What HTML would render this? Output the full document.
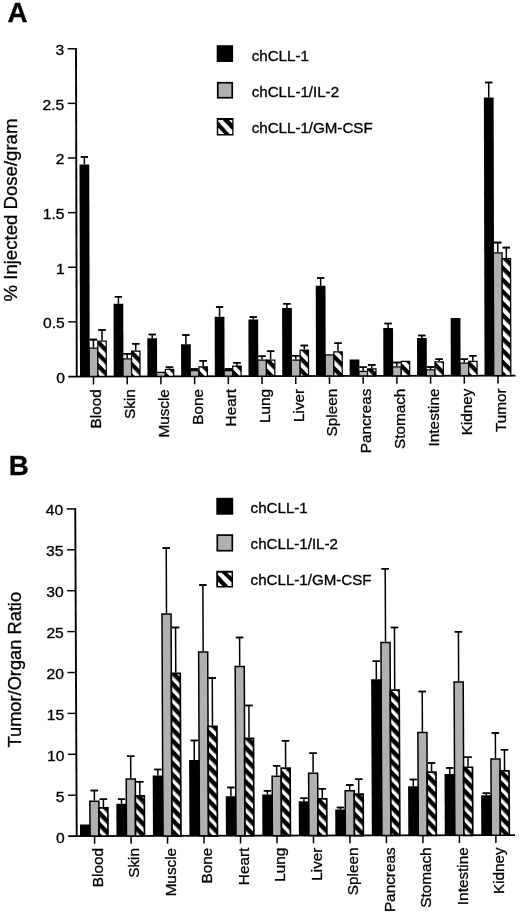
<!DOCTYPE html>
<html><head><meta charset="utf-8"><title>Figure</title>
<style>html,body{margin:0;padding:0;background:#fff}svg{display:block;filter:grayscale(1)}text{font-family:"Liberation Sans",sans-serif;fill:#000;stroke:#000;stroke-width:0.3px}</style>
</head><body>
<svg width="520" height="914" viewBox="0 0 520 914">
<defs>
<pattern id="hA" patternUnits="userSpaceOnUse" width="20" height="8.294" patternTransform="rotate(45.342) translate(0 2.666)"><rect width="20" height="8.294" fill="#fff"/><rect width="20" height="4.25" fill="#000"/></pattern>
<pattern id="hB" patternUnits="userSpaceOnUse" width="20" height="7.93" patternTransform="rotate(45.9) translate(0 0.45)"><rect width="20" height="7.93" fill="#fff"/><rect width="20" height="4.52" fill="#000"/></pattern>
</defs>
<rect width="520" height="914" fill="#fff"/>
<text transform="translate(7.4 21.9)" font-size="27.8" text-anchor="start" font-weight="bold">A</text>
<text transform="translate(8.7 475.3)" font-size="27.8" text-anchor="start" font-weight="bold">B</text>
<polygon points="75.05,48.05 76.95,48.05 77.7,376.5 75.8,376.5" fill="#000"/>
<polygon points="68.3,375.65 515.5,374.71 515.5,376.46 68.3,377.4" fill="#000"/>
<text transform="translate(64.9 382.9) scale(1.08 1)" font-size="14.5" text-anchor="end" font-weight="normal">0</text>
<rect x="68.22" y="321.15" width="8.4" height="1.45" fill="#000"/>
<text transform="translate(64.78 328.27) scale(1.08 1)" font-size="14.5" text-anchor="end" font-weight="normal">0.5</text>
<rect x="68.1" y="266.53" width="8.4" height="1.45" fill="#000"/>
<text transform="translate(64.65 273.65) scale(1.08 1)" font-size="14.5" text-anchor="end" font-weight="normal">1</text>
<rect x="67.97" y="211.91" width="8.4" height="1.45" fill="#000"/>
<text transform="translate(64.53 219.03) scale(1.08 1)" font-size="14.5" text-anchor="end" font-weight="normal">1.5</text>
<rect x="67.85" y="157.28" width="8.4" height="1.45" fill="#000"/>
<text transform="translate(64.4 164.4) scale(1.08 1)" font-size="14.5" text-anchor="end" font-weight="normal">2</text>
<rect x="67.72" y="102.66" width="8.4" height="1.45" fill="#000"/>
<text transform="translate(64.28 109.78) scale(1.08 1)" font-size="14.5" text-anchor="end" font-weight="normal">2.5</text>
<rect x="67.6" y="48.03" width="8.4" height="1.45" fill="#000"/>
<text transform="translate(64.15 55.15) scale(1.08 1)" font-size="14.5" text-anchor="end" font-weight="normal">3</text>
<polygon points="74.3,508.2 76.2,508.2 77.65,836.1 75.75,836.1" fill="#000"/>
<polygon points="68.2,835.25 515,834.31 515,836.06 68.2,837" fill="#000"/>
<text transform="translate(64.7 842.5) scale(1.08 1)" font-size="14.5" text-anchor="end" font-weight="normal">0</text>
<rect x="68.02" y="794.48" width="8.5" height="1.45" fill="#000"/>
<text transform="translate(64.52 801.6) scale(1.08 1)" font-size="14.5" text-anchor="end" font-weight="normal">5</text>
<rect x="67.84" y="753.58" width="8.5" height="1.45" fill="#000"/>
<text transform="translate(64.34 760.7) scale(1.08 1)" font-size="14.5" text-anchor="end" font-weight="normal">10</text>
<rect x="67.66" y="712.68" width="8.5" height="1.45" fill="#000"/>
<text transform="translate(64.16 719.8) scale(1.08 1)" font-size="14.5" text-anchor="end" font-weight="normal">15</text>
<rect x="67.47" y="671.78" width="8.5" height="1.45" fill="#000"/>
<text transform="translate(63.97 678.9) scale(1.08 1)" font-size="14.5" text-anchor="end" font-weight="normal">20</text>
<rect x="67.29" y="630.88" width="8.5" height="1.45" fill="#000"/>
<text transform="translate(63.79 638) scale(1.08 1)" font-size="14.5" text-anchor="end" font-weight="normal">25</text>
<rect x="67.11" y="589.98" width="8.5" height="1.45" fill="#000"/>
<text transform="translate(63.61 597.1) scale(1.08 1)" font-size="14.5" text-anchor="end" font-weight="normal">30</text>
<rect x="66.93" y="549.08" width="8.5" height="1.45" fill="#000"/>
<text transform="translate(63.43 556.2) scale(1.08 1)" font-size="14.5" text-anchor="end" font-weight="normal">35</text>
<rect x="66.75" y="508.18" width="8.5" height="1.45" fill="#000"/>
<text transform="translate(63.25 515.3) scale(1.08 1)" font-size="14.5" text-anchor="end" font-weight="normal">40</text>
<g transform="matrix(1 0 0.00230 1 -0.87 0)">
<path d="M84.88 164.5V157M81.28 157H88.47" stroke="#000" stroke-width="1.5" fill="none"/>
<rect x="81.28" y="156.2" width="7.2" height="1.6" fill="#000"/>
<path d="M93.5 347.5V339.6M89.8 339.6H97.2" stroke="#000" stroke-width="1.5" fill="none"/>
<rect x="89.8" y="338.8" width="7.4" height="1.6" fill="#000"/>
<path d="M102.1 340.6V330M98.4 330H105.8" stroke="#000" stroke-width="1.5" fill="none"/>
<rect x="98.4" y="329.2" width="7.4" height="1.6" fill="#000"/>
<rect x="89.1" y="348.12" width="8.8" height="28.35" fill="#b0b0b0" stroke="#000" stroke-width="1.25"/>
<rect x="97.9" y="341.23" width="8.4" height="35.25" fill="url(#hA)" stroke="#000" stroke-width="1.25"/>
<rect x="80" y="164.5" width="9.75" height="211.97" fill="#000"/>
<path d="M118.59 303.75V296.75M114.99 296.75H122.19" stroke="#000" stroke-width="1.5" fill="none"/>
<rect x="114.99" y="295.95" width="7.2" height="1.6" fill="#000"/>
<path d="M127.21 358.25V353.75M123.51 353.75H130.91" stroke="#000" stroke-width="1.5" fill="none"/>
<rect x="123.51" y="352.95" width="7.4" height="1.6" fill="#000"/>
<path d="M135.81 350.5V343.75M132.11 343.75H139.51" stroke="#000" stroke-width="1.5" fill="none"/>
<rect x="132.11" y="342.95" width="7.4" height="1.6" fill="#000"/>
<rect x="122.81" y="358.88" width="8.8" height="17.52" fill="#b0b0b0" stroke="#000" stroke-width="1.25"/>
<rect x="131.61" y="351.12" width="8.4" height="25.27" fill="url(#hA)" stroke="#000" stroke-width="1.25"/>
<rect x="113.71" y="303.75" width="9.75" height="72.65" fill="#000"/>
<path d="M152.3 338.25V334.5M148.7 334.5H155.9" stroke="#000" stroke-width="1.5" fill="none"/>
<rect x="148.7" y="333.7" width="7.2" height="1.6" fill="#000"/>
<path d="M169.52 368.75V367.3M165.82 367.3H173.22" stroke="#000" stroke-width="1.5" fill="none"/>
<rect x="165.82" y="366.5" width="7.4" height="1.6" fill="#000"/>
<rect x="156.52" y="372.38" width="8.8" height="3.95" fill="#b0b0b0" stroke="#000" stroke-width="1.25"/>
<rect x="165.32" y="369.38" width="8.4" height="6.95" fill="url(#hA)" stroke="#000" stroke-width="1.25"/>
<rect x="147.42" y="338.25" width="9.75" height="38.08" fill="#000"/>
<path d="M186 344.25V335M182.41 335H189.6" stroke="#000" stroke-width="1.5" fill="none"/>
<rect x="182.41" y="334.2" width="7.2" height="1.6" fill="#000"/>
<path d="M194.63 369.9V369M190.93 369H198.33" stroke="#000" stroke-width="1.5" fill="none"/>
<rect x="190.93" y="368.2" width="7.4" height="1.6" fill="#000"/>
<path d="M203.23 366.25V360.75M199.53 360.75H206.93" stroke="#000" stroke-width="1.5" fill="none"/>
<rect x="199.53" y="359.95" width="7.4" height="1.6" fill="#000"/>
<rect x="190.23" y="370.52" width="8.8" height="5.73" fill="#b0b0b0" stroke="#000" stroke-width="1.25"/>
<rect x="199.03" y="366.88" width="8.4" height="9.38" fill="url(#hA)" stroke="#000" stroke-width="1.25"/>
<rect x="181.13" y="344.25" width="9.75" height="32.01" fill="#000"/>
<path d="M219.72 316.75V307M216.12 307H223.31" stroke="#000" stroke-width="1.5" fill="none"/>
<rect x="216.12" y="306.2" width="7.2" height="1.6" fill="#000"/>
<path d="M228.34 369.9V369M224.64 369H232.04" stroke="#000" stroke-width="1.5" fill="none"/>
<rect x="224.64" y="368.2" width="7.4" height="1.6" fill="#000"/>
<path d="M236.94 365.5V362.75M233.24 362.75H240.64" stroke="#000" stroke-width="1.5" fill="none"/>
<rect x="233.24" y="361.95" width="7.4" height="1.6" fill="#000"/>
<rect x="223.94" y="370.52" width="8.8" height="5.66" fill="#b0b0b0" stroke="#000" stroke-width="1.25"/>
<rect x="232.74" y="366.12" width="8.4" height="10.06" fill="url(#hA)" stroke="#000" stroke-width="1.25"/>
<rect x="214.84" y="316.75" width="9.75" height="59.44" fill="#000"/>
<path d="M253.43 319.5V317M249.83 317H257.03" stroke="#000" stroke-width="1.5" fill="none"/>
<rect x="249.83" y="316.2" width="7.2" height="1.6" fill="#000"/>
<path d="M262.05 359.5V356.25M258.35 356.25H265.75" stroke="#000" stroke-width="1.5" fill="none"/>
<rect x="258.35" y="355.45" width="7.4" height="1.6" fill="#000"/>
<path d="M270.65 359.5V351.25M266.95 351.25H274.35" stroke="#000" stroke-width="1.5" fill="none"/>
<rect x="266.95" y="350.45" width="7.4" height="1.6" fill="#000"/>
<rect x="257.65" y="360.12" width="8.8" height="15.99" fill="#b0b0b0" stroke="#000" stroke-width="1.25"/>
<rect x="266.45" y="360.12" width="8.4" height="15.99" fill="url(#hA)" stroke="#000" stroke-width="1.25"/>
<rect x="248.55" y="319.5" width="9.75" height="56.62" fill="#000"/>
<path d="M287.13 308V303.75M283.53 303.75H290.74" stroke="#000" stroke-width="1.5" fill="none"/>
<rect x="283.53" y="302.95" width="7.2" height="1.6" fill="#000"/>
<path d="M295.76 359.5V355.75M292.06 355.75H299.46" stroke="#000" stroke-width="1.5" fill="none"/>
<rect x="292.06" y="354.95" width="7.4" height="1.6" fill="#000"/>
<path d="M304.36 349.5V345.5M300.66 345.5H308.06" stroke="#000" stroke-width="1.5" fill="none"/>
<rect x="300.66" y="344.7" width="7.4" height="1.6" fill="#000"/>
<rect x="291.36" y="360.12" width="8.8" height="15.92" fill="#b0b0b0" stroke="#000" stroke-width="1.25"/>
<rect x="300.16" y="350.12" width="8.4" height="25.92" fill="url(#hA)" stroke="#000" stroke-width="1.25"/>
<rect x="282.26" y="308" width="9.75" height="68.05" fill="#000"/>
<path d="M320.85 285.75V278M317.25 278H324.45" stroke="#000" stroke-width="1.5" fill="none"/>
<rect x="317.25" y="277.2" width="7.2" height="1.6" fill="#000"/>
<path d="M338.07 351.25V343.25M334.37 343.25H341.77" stroke="#000" stroke-width="1.5" fill="none"/>
<rect x="334.37" y="342.45" width="7.4" height="1.6" fill="#000"/>
<rect x="325.07" y="354.88" width="8.8" height="21.1" fill="#b0b0b0" stroke="#000" stroke-width="1.25"/>
<rect x="333.87" y="351.88" width="8.4" height="24.1" fill="url(#hA)" stroke="#000" stroke-width="1.25"/>
<rect x="315.97" y="285.75" width="9.75" height="90.23" fill="#000"/>
<path d="M363.18 370.75V367.2M359.48 367.2H366.88" stroke="#000" stroke-width="1.5" fill="none"/>
<rect x="359.48" y="366.4" width="7.4" height="1.6" fill="#000"/>
<path d="M371.78 368.25V365M368.08 365H375.48" stroke="#000" stroke-width="1.5" fill="none"/>
<rect x="368.08" y="364.2" width="7.4" height="1.6" fill="#000"/>
<rect x="358.78" y="371.38" width="8.8" height="4.53" fill="#b0b0b0" stroke="#000" stroke-width="1.25"/>
<rect x="367.58" y="368.88" width="8.4" height="7.03" fill="url(#hA)" stroke="#000" stroke-width="1.25"/>
<rect x="349.68" y="359.4" width="9.75" height="16.5" fill="#000"/>
<path d="M388.26 328V323.5M384.66 323.5H391.87" stroke="#000" stroke-width="1.5" fill="none"/>
<rect x="384.66" y="322.7" width="7.2" height="1.6" fill="#000"/>
<path d="M396.89 366.25V362.5M393.19 362.5H400.59" stroke="#000" stroke-width="1.5" fill="none"/>
<rect x="393.19" y="361.7" width="7.4" height="1.6" fill="#000"/>
<rect x="392.49" y="366.88" width="8.8" height="8.96" fill="#b0b0b0" stroke="#000" stroke-width="1.25"/>
<rect x="401.29" y="361.38" width="8.4" height="14.46" fill="url(#hA)" stroke="#000" stroke-width="1.25"/>
<rect x="383.39" y="328" width="9.75" height="47.83" fill="#000"/>
<path d="M421.98 338V335.5M418.38 335.5H425.58" stroke="#000" stroke-width="1.5" fill="none"/>
<rect x="418.38" y="334.7" width="7.2" height="1.6" fill="#000"/>
<path d="M430.6 369.25V367M426.9 367H434.3" stroke="#000" stroke-width="1.5" fill="none"/>
<rect x="426.9" y="366.2" width="7.4" height="1.6" fill="#000"/>
<path d="M439.2 361.25V359.25M435.5 359.25H442.9" stroke="#000" stroke-width="1.5" fill="none"/>
<rect x="435.5" y="358.45" width="7.4" height="1.6" fill="#000"/>
<rect x="426.2" y="369.88" width="8.8" height="5.89" fill="#b0b0b0" stroke="#000" stroke-width="1.25"/>
<rect x="435" y="361.88" width="8.4" height="13.89" fill="url(#hA)" stroke="#000" stroke-width="1.25"/>
<rect x="417.1" y="338" width="9.75" height="37.76" fill="#000"/>
<path d="M464.31 362.5V359.25M460.61 359.25H468.01" stroke="#000" stroke-width="1.5" fill="none"/>
<rect x="460.61" y="358.45" width="7.4" height="1.6" fill="#000"/>
<path d="M472.91 360.75V355.75M469.21 355.75H476.61" stroke="#000" stroke-width="1.5" fill="none"/>
<rect x="469.21" y="354.95" width="7.4" height="1.6" fill="#000"/>
<rect x="459.91" y="363.12" width="8.8" height="12.57" fill="#b0b0b0" stroke="#000" stroke-width="1.25"/>
<rect x="468.71" y="361.38" width="8.4" height="14.32" fill="url(#hA)" stroke="#000" stroke-width="1.25"/>
<rect x="450.81" y="318" width="9.75" height="57.69" fill="#000"/>
<path d="M489.39 97.6V82.5M485.79 82.5H493" stroke="#000" stroke-width="1.5" fill="none"/>
<rect x="485.79" y="81.7" width="7.2" height="1.6" fill="#000"/>
<path d="M498.02 252.3V242.6M494.32 242.6H501.72" stroke="#000" stroke-width="1.5" fill="none"/>
<rect x="494.32" y="241.8" width="7.4" height="1.6" fill="#000"/>
<path d="M506.62 258V247.6M502.92 247.6H510.32" stroke="#000" stroke-width="1.5" fill="none"/>
<rect x="502.92" y="246.8" width="7.4" height="1.6" fill="#000"/>
<rect x="493.62" y="252.93" width="8.8" height="122.7" fill="#b0b0b0" stroke="#000" stroke-width="1.25"/>
<rect x="502.42" y="258.62" width="8.4" height="117" fill="url(#hA)" stroke="#000" stroke-width="1.25"/>
<rect x="484.52" y="97.6" width="9.75" height="278.02" fill="#000"/>
</g>
<rect x="92.75" y="376.47" width="1.5" height="8" fill="#000"/>
<text transform="translate(101.4 389.27) rotate(-90)" font-size="15.3" text-anchor="end" font-weight="normal">Blood</text>
<rect x="126.46" y="376.4" width="1.5" height="8" fill="#000"/>
<text transform="translate(135.11 389.2) rotate(-90)" font-size="15.3" text-anchor="end" font-weight="normal">Skin</text>
<rect x="160.17" y="376.33" width="1.5" height="8" fill="#000"/>
<text transform="translate(168.82 389.13) rotate(-90)" font-size="15.3" text-anchor="end" font-weight="normal">Muscle</text>
<rect x="193.88" y="376.26" width="1.5" height="8" fill="#000"/>
<text transform="translate(202.53 389.06) rotate(-90)" font-size="15.3" text-anchor="end" font-weight="normal">Bone</text>
<rect x="227.59" y="376.19" width="1.5" height="8" fill="#000"/>
<text transform="translate(236.24 388.99) rotate(-90)" font-size="15.3" text-anchor="end" font-weight="normal">Heart</text>
<rect x="261.3" y="376.12" width="1.5" height="8" fill="#000"/>
<text transform="translate(269.95 388.92) rotate(-90)" font-size="15.3" text-anchor="end" font-weight="normal">Lung</text>
<rect x="295.01" y="376.05" width="1.5" height="8" fill="#000"/>
<text transform="translate(303.66 388.85) rotate(-90)" font-size="15.3" text-anchor="end" font-weight="normal">Liver</text>
<rect x="328.72" y="375.98" width="1.5" height="8" fill="#000"/>
<text transform="translate(337.37 388.78) rotate(-90)" font-size="15.3" text-anchor="end" font-weight="normal">Spleen</text>
<rect x="362.43" y="375.9" width="1.5" height="8" fill="#000"/>
<text transform="translate(371.08 388.7) rotate(-90)" font-size="15.3" text-anchor="end" font-weight="normal">Pancreas</text>
<rect x="396.14" y="375.83" width="1.5" height="8" fill="#000"/>
<text transform="translate(404.79 388.63) rotate(-90)" font-size="15.3" text-anchor="end" font-weight="normal">Stomach</text>
<rect x="429.85" y="375.76" width="1.5" height="8" fill="#000"/>
<text transform="translate(438.5 388.56) rotate(-90)" font-size="15.3" text-anchor="end" font-weight="normal">Intestine</text>
<rect x="463.56" y="375.69" width="1.5" height="8" fill="#000"/>
<text transform="translate(472.21 388.49) rotate(-90)" font-size="15.3" text-anchor="end" font-weight="normal">Kidney</text>
<rect x="497.27" y="375.62" width="1.5" height="8" fill="#000"/>
<text transform="translate(505.92 388.42) rotate(-90)" font-size="15.3" text-anchor="end" font-weight="normal">Tumor</text>
<g transform="matrix(1 0 0.00450 1 -3.76 0)">
<path d="M94.55 800.5V790.5M90.85 790.5H98.25" stroke="#000" stroke-width="1.5" fill="none"/>
<rect x="90.85" y="789.7" width="7.4" height="1.6" fill="#000"/>
<path d="M103.55 807V799.25M99.85 799.25H107.25" stroke="#000" stroke-width="1.5" fill="none"/>
<rect x="99.85" y="798.45" width="7.4" height="1.6" fill="#000"/>
<rect x="90" y="801.25" width="9.1" height="34.82" fill="#b0b0b0" stroke="#000" stroke-width="1.5"/>
<rect x="99.1" y="807.85" width="8.9" height="28.22" fill="url(#hB)" stroke="#000" stroke-width="1.7"/>
<rect x="80" y="824.5" width="10.4" height="11.57" fill="#000"/>
<path d="M121.68 803.75V799.25M118.08 799.25H125.28" stroke="#000" stroke-width="1.5" fill="none"/>
<rect x="118.08" y="798.45" width="7.2" height="1.6" fill="#000"/>
<path d="M131.03 778.25V756.25M127.33 756.25H134.73" stroke="#000" stroke-width="1.5" fill="none"/>
<rect x="127.33" y="755.45" width="7.4" height="1.6" fill="#000"/>
<path d="M140.03 795V781.75M136.33 781.75H143.73" stroke="#000" stroke-width="1.5" fill="none"/>
<rect x="136.33" y="780.95" width="7.4" height="1.6" fill="#000"/>
<rect x="126.48" y="779" width="9.1" height="56.99" fill="#b0b0b0" stroke="#000" stroke-width="1.5"/>
<rect x="135.58" y="795.85" width="8.9" height="40.14" fill="url(#hB)" stroke="#000" stroke-width="1.7"/>
<rect x="116.48" y="803.75" width="10.4" height="32.24" fill="#000"/>
<path d="M158.16 775.5V769.5M154.56 769.5H161.76" stroke="#000" stroke-width="1.5" fill="none"/>
<rect x="154.56" y="768.7" width="7.2" height="1.6" fill="#000"/>
<path d="M167.51 613.25V548M163.81 548H171.21" stroke="#000" stroke-width="1.5" fill="none"/>
<rect x="163.81" y="547.2" width="7.4" height="1.6" fill="#000"/>
<path d="M176.51 672.5V627.5M172.81 627.5H180.21" stroke="#000" stroke-width="1.5" fill="none"/>
<rect x="172.81" y="626.7" width="7.4" height="1.6" fill="#000"/>
<rect x="162.96" y="614" width="9.1" height="221.92" fill="#b0b0b0" stroke="#000" stroke-width="1.5"/>
<rect x="172.06" y="673.35" width="8.9" height="162.57" fill="url(#hB)" stroke="#000" stroke-width="1.7"/>
<rect x="152.96" y="775.5" width="10.4" height="60.42" fill="#000"/>
<path d="M194.64 760V740.5M191.04 740.5H198.24" stroke="#000" stroke-width="1.5" fill="none"/>
<rect x="191.04" y="739.7" width="7.2" height="1.6" fill="#000"/>
<path d="M203.99 651.25V585M200.29 585H207.69" stroke="#000" stroke-width="1.5" fill="none"/>
<rect x="200.29" y="584.2" width="7.4" height="1.6" fill="#000"/>
<path d="M212.99 725.5V678M209.29 678H216.69" stroke="#000" stroke-width="1.5" fill="none"/>
<rect x="209.29" y="677.2" width="7.4" height="1.6" fill="#000"/>
<rect x="199.44" y="652" width="9.1" height="183.84" fill="#b0b0b0" stroke="#000" stroke-width="1.5"/>
<rect x="208.54" y="726.35" width="8.9" height="109.49" fill="url(#hB)" stroke="#000" stroke-width="1.7"/>
<rect x="189.44" y="760" width="10.4" height="75.84" fill="#000"/>
<path d="M231.12 796.25V787.5M227.52 787.5H234.72" stroke="#000" stroke-width="1.5" fill="none"/>
<rect x="227.52" y="786.7" width="7.2" height="1.6" fill="#000"/>
<path d="M240.47 665.75V637.5M236.77 637.5H244.17" stroke="#000" stroke-width="1.5" fill="none"/>
<rect x="236.77" y="636.7" width="7.4" height="1.6" fill="#000"/>
<path d="M249.47 737.5V705.5M245.77 705.5H253.17" stroke="#000" stroke-width="1.5" fill="none"/>
<rect x="245.77" y="704.7" width="7.4" height="1.6" fill="#000"/>
<rect x="235.92" y="666.5" width="9.1" height="169.26" fill="#b0b0b0" stroke="#000" stroke-width="1.5"/>
<rect x="245.02" y="738.35" width="8.9" height="97.41" fill="url(#hB)" stroke="#000" stroke-width="1.7"/>
<rect x="225.92" y="796.25" width="10.4" height="39.51" fill="#000"/>
<path d="M267.6 794.5V790.75M264 790.75H271.2" stroke="#000" stroke-width="1.5" fill="none"/>
<rect x="264" y="789.95" width="7.2" height="1.6" fill="#000"/>
<path d="M276.95 775.5V765.75M273.25 765.75H280.65" stroke="#000" stroke-width="1.5" fill="none"/>
<rect x="273.25" y="764.95" width="7.4" height="1.6" fill="#000"/>
<path d="M285.95 767.25V740.75M282.25 740.75H289.65" stroke="#000" stroke-width="1.5" fill="none"/>
<rect x="282.25" y="739.95" width="7.4" height="1.6" fill="#000"/>
<rect x="272.4" y="776.25" width="9.1" height="59.44" fill="#b0b0b0" stroke="#000" stroke-width="1.5"/>
<rect x="281.5" y="768.1" width="8.9" height="67.59" fill="url(#hB)" stroke="#000" stroke-width="1.7"/>
<rect x="262.4" y="794.5" width="10.4" height="41.19" fill="#000"/>
<path d="M304.08 801.25V798.25M300.48 798.25H307.68" stroke="#000" stroke-width="1.5" fill="none"/>
<rect x="300.48" y="797.45" width="7.2" height="1.6" fill="#000"/>
<path d="M313.43 772.5V753.25M309.73 753.25H317.13" stroke="#000" stroke-width="1.5" fill="none"/>
<rect x="309.73" y="752.45" width="7.4" height="1.6" fill="#000"/>
<path d="M322.43 798V788.75M318.73 788.75H326.13" stroke="#000" stroke-width="1.5" fill="none"/>
<rect x="318.73" y="787.95" width="7.4" height="1.6" fill="#000"/>
<rect x="308.88" y="773.25" width="9.1" height="62.36" fill="#b0b0b0" stroke="#000" stroke-width="1.5"/>
<rect x="317.98" y="798.85" width="8.9" height="36.76" fill="url(#hB)" stroke="#000" stroke-width="1.7"/>
<rect x="298.88" y="801.25" width="10.4" height="34.36" fill="#000"/>
<path d="M340.56 809.5V807.5M336.96 807.5H344.16" stroke="#000" stroke-width="1.5" fill="none"/>
<rect x="336.96" y="806.7" width="7.2" height="1.6" fill="#000"/>
<path d="M349.91 790V785M346.21 785H353.61" stroke="#000" stroke-width="1.5" fill="none"/>
<rect x="346.21" y="784.2" width="7.4" height="1.6" fill="#000"/>
<path d="M358.91 793.25V779.25M355.21 779.25H362.61" stroke="#000" stroke-width="1.5" fill="none"/>
<rect x="355.21" y="778.45" width="7.4" height="1.6" fill="#000"/>
<rect x="345.36" y="790.75" width="9.1" height="44.78" fill="#b0b0b0" stroke="#000" stroke-width="1.5"/>
<rect x="354.46" y="794.1" width="8.9" height="41.43" fill="url(#hB)" stroke="#000" stroke-width="1.7"/>
<rect x="335.36" y="809.5" width="10.4" height="26.03" fill="#000"/>
<path d="M377.04 679.25V661.25M373.44 661.25H380.64" stroke="#000" stroke-width="1.5" fill="none"/>
<rect x="373.44" y="660.45" width="7.2" height="1.6" fill="#000"/>
<path d="M386.39 641.75V568.75M382.69 568.75H390.09" stroke="#000" stroke-width="1.5" fill="none"/>
<rect x="382.69" y="567.95" width="7.4" height="1.6" fill="#000"/>
<path d="M395.39 689.25V627.5M391.69 627.5H399.09" stroke="#000" stroke-width="1.5" fill="none"/>
<rect x="391.69" y="626.7" width="7.4" height="1.6" fill="#000"/>
<rect x="381.84" y="642.5" width="9.1" height="192.96" fill="#b0b0b0" stroke="#000" stroke-width="1.5"/>
<rect x="390.94" y="690.1" width="8.9" height="145.36" fill="url(#hB)" stroke="#000" stroke-width="1.7"/>
<rect x="371.84" y="679.25" width="10.4" height="156.21" fill="#000"/>
<path d="M413.52 786.25V779.5M409.92 779.5H417.12" stroke="#000" stroke-width="1.5" fill="none"/>
<rect x="409.92" y="778.7" width="7.2" height="1.6" fill="#000"/>
<path d="M422.87 731.75V691.5M419.17 691.5H426.57" stroke="#000" stroke-width="1.5" fill="none"/>
<rect x="419.17" y="690.7" width="7.4" height="1.6" fill="#000"/>
<path d="M431.87 771.25V763M428.17 763H435.57" stroke="#000" stroke-width="1.5" fill="none"/>
<rect x="428.17" y="762.2" width="7.4" height="1.6" fill="#000"/>
<rect x="418.32" y="732.5" width="9.1" height="102.88" fill="#b0b0b0" stroke="#000" stroke-width="1.5"/>
<rect x="427.42" y="772.1" width="8.9" height="63.28" fill="url(#hB)" stroke="#000" stroke-width="1.7"/>
<rect x="408.32" y="786.25" width="10.4" height="49.13" fill="#000"/>
<path d="M450 774.1V767.9M446.4 767.9H453.6" stroke="#000" stroke-width="1.5" fill="none"/>
<rect x="446.4" y="767.1" width="7.2" height="1.6" fill="#000"/>
<path d="M459.35 681.25V631.75M455.65 631.75H463.05" stroke="#000" stroke-width="1.5" fill="none"/>
<rect x="455.65" y="630.95" width="7.4" height="1.6" fill="#000"/>
<path d="M468.35 766.4V757.3M464.65 757.3H472.05" stroke="#000" stroke-width="1.5" fill="none"/>
<rect x="464.65" y="756.5" width="7.4" height="1.6" fill="#000"/>
<rect x="454.8" y="682" width="9.1" height="153.3" fill="#b0b0b0" stroke="#000" stroke-width="1.5"/>
<rect x="463.9" y="767.25" width="8.9" height="68.05" fill="url(#hB)" stroke="#000" stroke-width="1.7"/>
<rect x="444.8" y="774.1" width="10.4" height="61.2" fill="#000"/>
<path d="M486.48 795.3V793.3M482.88 793.3H490.08" stroke="#000" stroke-width="1.5" fill="none"/>
<rect x="482.88" y="792.5" width="7.2" height="1.6" fill="#000"/>
<path d="M495.83 758.3V732.9M492.13 732.9H499.53" stroke="#000" stroke-width="1.5" fill="none"/>
<rect x="492.13" y="732.1" width="7.4" height="1.6" fill="#000"/>
<path d="M504.83 770.1V749.8M501.13 749.8H508.53" stroke="#000" stroke-width="1.5" fill="none"/>
<rect x="501.13" y="749" width="7.4" height="1.6" fill="#000"/>
<rect x="491.28" y="759.05" width="9.1" height="76.18" fill="#b0b0b0" stroke="#000" stroke-width="1.5"/>
<rect x="500.38" y="770.95" width="8.9" height="64.28" fill="url(#hB)" stroke="#000" stroke-width="1.7"/>
<rect x="481.28" y="795.3" width="10.4" height="39.93" fill="#000"/>
</g>
<rect x="93.85" y="836.07" width="1.5" height="7.7" fill="#000"/>
<text transform="translate(102.8 848.07) rotate(-90)" font-size="15.3" text-anchor="end" font-weight="normal">Blood</text>
<rect x="130.33" y="835.99" width="1.5" height="7.7" fill="#000"/>
<text transform="translate(139.28 847.99) rotate(-90)" font-size="15.3" text-anchor="end" font-weight="normal">Skin</text>
<rect x="166.81" y="835.92" width="1.5" height="7.7" fill="#000"/>
<text transform="translate(175.76 847.92) rotate(-90)" font-size="15.3" text-anchor="end" font-weight="normal">Muscle</text>
<rect x="203.29" y="835.84" width="1.5" height="7.7" fill="#000"/>
<text transform="translate(212.24 847.84) rotate(-90)" font-size="15.3" text-anchor="end" font-weight="normal">Bone</text>
<rect x="239.77" y="835.76" width="1.5" height="7.7" fill="#000"/>
<text transform="translate(248.72 847.76) rotate(-90)" font-size="15.3" text-anchor="end" font-weight="normal">Heart</text>
<rect x="276.25" y="835.69" width="1.5" height="7.7" fill="#000"/>
<text transform="translate(285.2 847.69) rotate(-90)" font-size="15.3" text-anchor="end" font-weight="normal">Lung</text>
<rect x="312.73" y="835.61" width="1.5" height="7.7" fill="#000"/>
<text transform="translate(321.68 847.61) rotate(-90)" font-size="15.3" text-anchor="end" font-weight="normal">Liver</text>
<rect x="349.21" y="835.53" width="1.5" height="7.7" fill="#000"/>
<text transform="translate(358.16 847.53) rotate(-90)" font-size="15.3" text-anchor="end" font-weight="normal">Spleen</text>
<rect x="385.69" y="835.46" width="1.5" height="7.7" fill="#000"/>
<text transform="translate(394.64 847.46) rotate(-90)" font-size="15.3" text-anchor="end" font-weight="normal">Pancreas</text>
<rect x="422.17" y="835.38" width="1.5" height="7.7" fill="#000"/>
<text transform="translate(431.12 847.38) rotate(-90)" font-size="15.3" text-anchor="end" font-weight="normal">Stomach</text>
<rect x="458.65" y="835.3" width="1.5" height="7.7" fill="#000"/>
<text transform="translate(467.6 847.3) rotate(-90)" font-size="15.3" text-anchor="end" font-weight="normal">Intestine</text>
<rect x="495.13" y="835.23" width="1.5" height="7.7" fill="#000"/>
<text transform="translate(504.08 847.23) rotate(-90)" font-size="15.3" text-anchor="end" font-weight="normal">Kidney</text>
<text transform="translate(16.8 210) rotate(-90)" font-size="18.6" text-anchor="middle" font-weight="normal">% Injected Dose/gram</text>
<text transform="translate(21.3 669.7) rotate(-90)" font-size="18.25" text-anchor="middle" font-weight="normal">Tumor/Organ Ratio</text>
<rect x="216.7" y="45.2" width="16.4" height="16.8" fill="#000"/>
<rect x="217.75" y="82.75" width="14.5" height="15" fill="#b0b0b0" stroke="#000" stroke-width="1.7"/>
<text transform="translate(251.7 60.6) scale(1.08 1)" font-size="14" text-anchor="start" font-weight="normal">chCLL-1</text>
<text transform="translate(251.7 96.5) scale(1.08 1)" font-size="14" text-anchor="start" font-weight="normal">chCLL-1/IL-2</text>
<text transform="translate(251.7 132.5) scale(1.08 1)" font-size="14" text-anchor="start" font-weight="normal">chCLL-1/GM-CSF</text>
<rect x="216.3" y="497.8" width="16.9" height="16.9" fill="#000"/>
<rect x="217.3" y="535.1" width="15" height="15.6" fill="#b0b0b0" stroke="#000" stroke-width="1.7"/>
<text transform="translate(250.6 512.9) scale(1.08 1)" font-size="14" text-anchor="start" font-weight="normal">chCLL-1</text>
<text transform="translate(250.6 548.8) scale(1.08 1)" font-size="14" text-anchor="start" font-weight="normal">chCLL-1/IL-2</text>
<text transform="translate(250.6 584.8) scale(1.08 1)" font-size="14" text-anchor="start" font-weight="normal">chCLL-1/GM-CSF</text>
<rect x="216.75" y="118" width="16.75" height="17.5" fill="#000"/>
<polygon points="218.25,120 222.75,120 232.25,130 232.25,134 229.5,134 218.25,121.5" fill="#fff"/>
<polygon points="229,120 232.25,120 232.25,123.5" fill="#fff"/>
<polygon points="218.25,127.75 218.25,134 224.25,134" fill="#fff"/>
<rect x="216.25" y="570.75" width="16.75" height="16.75" fill="#000"/>
<polygon points="218,572.75 221.75,572.75 231.5,582.25 231.5,586 228.25,586 218,574.75" fill="#fff"/>
<polygon points="227,572.75 231.5,572.75 231.5,576.75" fill="#fff"/>
<polygon points="218,581.75 218,586 222.75,586" fill="#fff"/>
</svg></body></html>
